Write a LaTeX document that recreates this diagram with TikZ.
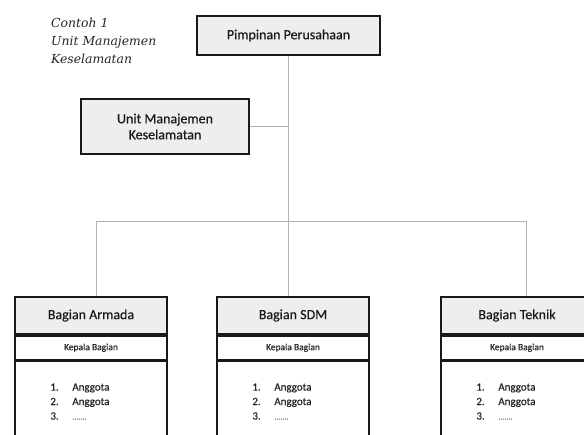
\documentclass[tikz,border=0pt]{standalone}
\usepackage{fontspec}
\setmainfont{Carlito}[FakeBold=0.4]
\newfontfamily\capserif{DejaVu Serif}
\tikzset{
  hdr/.style={draw=black!90, line width=1.7pt, fill=gray!13, inner sep=0pt, align=center,
    font=\fontsize{14}{16}\selectfont, text=black!90},
  subrow/.style={draw=black!90, line width=1.7pt, fill=white, inner sep=0pt,
    minimum width=152pt, minimum height=24pt, font=\fontsize{9.5}{11}\selectfont, text=black!85},
  bodyrow/.style={draw=black!90, line width=1.7pt, fill=white, inner sep=0pt,
    minimum width=152pt, minimum height=82pt},
  item/.style={inner sep=0pt, font=\fontsize{11}{13}\selectfont, text=black!85},
  dots/.style={inner sep=0pt, font=\fontsize{8}{9}\selectfont, text=black!55},
  conn/.style={draw=gray!60, line width=0.8pt},
  captxt/.style={inner sep=0pt, anchor=base west, font=\capserif\itshape\fontsize{12.4}{14}\selectfont, text=black!85}
}
\newcommand\dept[3]{%
  \node[hdr, minimum width=152pt, minimum height=37pt] (#1) at (#2,315.5) {#3};
  \node[subrow, anchor=north] (#1k) at (#1.south) {Kepala Bagian};
  \node[bodyrow, anchor=north] (#1b) at (#1k.south) {};
  \node[item, anchor=base west] (#1n1) at ([xshift=36pt,yshift=-30pt]#1b.north west) {1.};
  \node[item, anchor=base west] (#1n2) at ([xshift=36pt,yshift=-44.5pt]#1b.north west) {2.};
  \node[item, anchor=base west] (#1n3) at ([xshift=36pt,yshift=-59pt]#1b.north west) {3.};
  \node[item, anchor=base west] (#1a1) at ([xshift=58pt,yshift=-30pt]#1b.north west) {Anggota};
  \node[item, anchor=base west] (#1a2) at ([xshift=58pt,yshift=-44.5pt]#1b.north west) {Anggota};
  \node[dots, anchor=base west] (#1a3) at ([xshift=58pt,yshift=-59pt]#1b.north west) {.......};
}
\begin{document}
\begin{tikzpicture}[x=1pt,y=-1pt]
\useasboundingbox (0,0) rectangle (584,435);
\clip (0,0) rectangle (584,435);
\fill[white] (0,0) rectangle (584,435);

% caption
\node[captxt] (cap1) at (51,28) {Contoh 1};
\node[captxt] (cap2) at (51,46) {Unit Manajemen};
\node[captxt] (cap3) at (51,63.5) {Keselamatan};

% top boxes
\node[hdr, minimum width=183pt, minimum height=39pt] (pim) at (288.5,35.5) {Pimpinan Perusahaan};
\node[hdr, minimum width=168pt, minimum height=55pt] (unit) at (165,126.5) {Unit Manajemen\\Keselamatan};

% departments
\dept{arm}{91}{Bagian Armada}
\dept{sdm}{293}{Bagian SDM}
\dept{tek}{517}{Bagian Teknik}

% connectors
\coordinate (busY) at (0,221);
\coordinate (busM) at (pim.south |- busY);
\coordinate (busL) at (96,221);
\coordinate (busR) at (526,221);
\draw[conn] (pim.south) -- (busM);
\draw[conn] (busL) -- (busR);
\draw[conn] (busL) -- (busL |- arm.north);
\draw[conn] (busM) -- (busM |- sdm.north);
\draw[conn] (busR) -- (busR |- tek.north);
\draw[conn] (unit.east) -- (unit.east -| pim.south);
\end{tikzpicture}
\end{document}
